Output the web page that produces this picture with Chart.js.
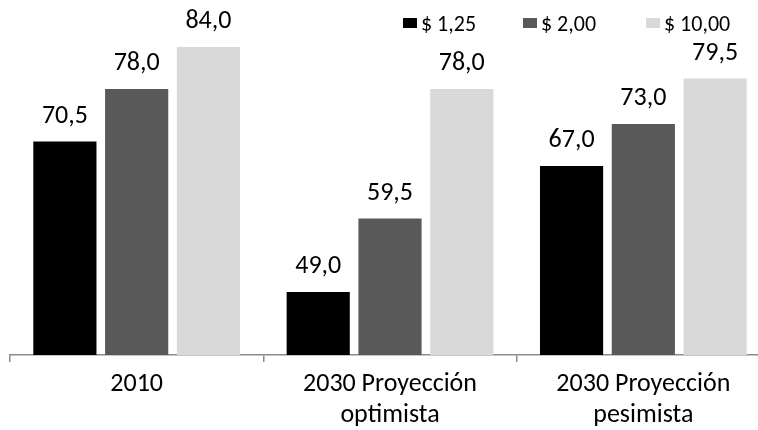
<!DOCTYPE html>
<html>
<head>
<meta charset="utf-8">
<script src="https://cdn.jsdelivr.net/npm/chart.js@4.4.0/dist/chart.umd.min.js"></script>
<style>
    html, body { margin: 0; padding: 0; background: #fff; overflow: hidden; }
    #wrap { position: relative; width: 770px; height: 430px; }
</style>
</head>
<body>
<div id="wrap"><canvas id="chart"></canvas></div>
<script>
// 数据
const categories = ['2010', ['2030 Proyección', 'optimista'], ['2030 Proyección', 'pesimista']];
const seriesNames = ['$ 1,25', '$ 2,00', '$ 10,00'];
const serie125 = [70.5, 49.0, 67.0];
const serie200 = [78.0, 59.5, 73.0];
const serie1000 = [84.0, 78.0, 79.5];
const seriesColors = ['#000000', '#595959', '#d9d9d9'];

const FONT = 'Carlito, Calibri, "Liberation Sans Narrow", "Open Sans", sans-serif';

// 柱顶数值标签
const valueLabels = {
    id: 'valueLabels',
    afterDatasetsDraw(chart) {
        const ctx = chart.ctx;
        ctx.save();
        ctx.font = '26px ' + FONT;
        ctx.fillStyle = '#000';
        ctx.textAlign = 'center';
        ctx.textBaseline = 'alphabetic';
        chart.data.datasets.forEach((ds, i) => {
            chart.getDatasetMeta(i).data.forEach((bar, j) => {
                const txt = ds.data[j].toFixed(1).replace('.', ',');
                ctx.fillText(txt, bar.x, bar.y - 19);
            });
        });
        ctx.restore();
    }
};

// 右上角图例
const topLegend = {
    id: 'topLegend',
    afterDraw(chart) {
        const ctx = chart.ctx;
        const starts = [403, 523, 646];
        ctx.save();
        ctx.font = '22px ' + FONT;
        ctx.textBaseline = 'alphabetic';
        chart.data.datasets.forEach((ds, i) => {
            ctx.fillStyle = ds.backgroundColor;
            ctx.fillRect(starts[i], 18, 14, 10);
            ctx.fillStyle = '#000';
            ctx.fillText(ds.label, starts[i] + 18, 31);
        });
        ctx.restore();
    }
};

const datasets = [serie125, serie200, serie1000].map((values, i) => ({
    label: seriesNames[i],
    data: values,
    backgroundColor: seriesColors[i],
    categoryPercentage: 0.85,
    barPercentage: 0.88
}));

new Chart(document.getElementById('chart'), {
    type: 'bar',
    data: { labels: categories, datasets: datasets },
    options: {
        responsive: true,
        maintainAspectRatio: false,
        animation: false,
        layout: { padding: { left: 10, top: 5, right: 0, bottom: 0 } },
        plugins: {
            legend: { display: false },
            tooltip: { enabled: false }
        },
        scales: {
            y: {
                display: false,
                min: 40,
                max: 90
            },
            x: {
                afterFit: (scale) => { scale.height = 75; },
                border: { display: true, color: '#8c8c8c', width: 1.5 },
                grid: {
                    offset: true,
                    drawOnChartArea: false,
                    drawTicks: true,
                    tickLength: 7,
                    color: '#8c8c8c',
                    lineWidth: 1.5
                },
                ticks: {
                    color: '#000',
                    padding: 7,
                    maxRotation: 0,
                    font: { family: FONT, size: 26, lineHeight: 1.2 }
                }
            }
        }
    },
    plugins: [valueLabels, topLegend]
});
</script>
</body>
</html>
